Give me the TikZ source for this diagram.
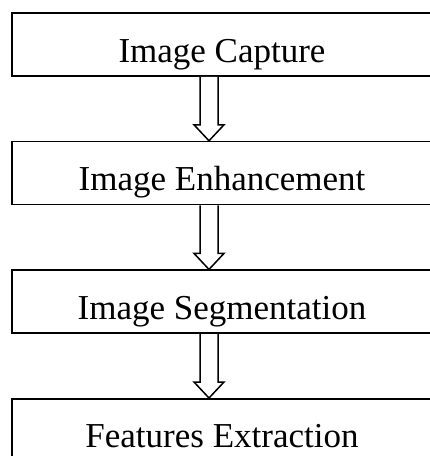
\documentclass[tikz,border=0pt]{standalone}
\usepackage{fontspec}
\setmainfont{Liberation Serif}
\usetikzlibrary{positioning,calc}
\tikzset{stage/.style={draw, line width=1.6pt, minimum width=420pt, minimum height=63pt,
                       inner sep=0pt, text height=37pt, text depth=2pt,
                       font=\fontsize{35}{40}\selectfont},
        hollow/.style={line width=1.5pt, fill=white,
                       to path={let \p1=(\tikztostart), \p2=(\tikztotarget) in
                       (\x1-9pt,\y1) -- (\x1-9pt,\y2+16pt) -- (\x1-15pt,\y2+16pt) -- (\x2,\y2)
                       -- (\x1+15pt,\y2+16pt) -- (\x1+9pt,\y2+16pt) -- (\x1+9pt,\y1)}},
        }

\begin{document}
\begin{tikzpicture}[x=1pt, y=-1pt, node distance=64pt]
    \useasboundingbox (0,0) rectangle (430,456);
    \clip (0,0) rectangle (430,456);

    \node [stage] (capture) at (222,44.5) {Image Capture};
    \node [stage, below=of capture] (enhance) {Image Enhancement};
    \node [stage, below=of enhance] (segment) {Image Segmentation};
    \node [stage, below=of segment] (features) {Features Extraction};

    %\draw [-{Triangle[open]}, double] (capture) -- (enhance);
    \draw [hollow] ([xshift=-13pt]capture.south) to ([xshift=-13pt]enhance.north);
    \draw [hollow] ([xshift=-13pt]enhance.south) to ([xshift=-13pt]segment.north);
    \draw [hollow] ([xshift=-13pt]segment.south) to ([xshift=-13pt]features.north);

\end{tikzpicture}
\end{document}
